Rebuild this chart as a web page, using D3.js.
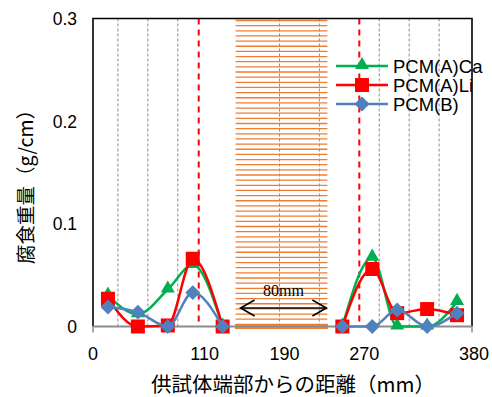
<!DOCTYPE html>
<html>
<head>
<meta charset="utf-8">
<script src="https://cdn.jsdelivr.net/npm/d3@7"></script>
<style>
    body { margin: 0; background: white; }
    text { font-family: "Liberation Sans", Arial, sans-serif; }
</style>
</head>
<body>
<svg id="chart" width="492" height="397"></svg>
<script>
    // sample positions (mm from specimen end) and corrosion weight (g/cm)
    var positions = [15, 45, 75, 100, 130, 250, 280, 305, 335, 365];
    var pcmACa = [0.030, 0.012, 0.036, 0.060, 0, 0, 0.067, 0, 0, 0.024];
    var pcmALi = [0.027, 0, 0.001, 0.066, 0, 0, 0.056, 0.013, 0.017, 0.011];
    var pcmB   = [0.019, 0.014, 0, 0.033, 0, 0, 0, 0.016, 0, 0.013];
    var seriesNames = ["PCM(A)Ca", "PCM(A)Li", "PCM(B)"];

    var xTicks = [0, 110, 190, 270, 380];
    var yTicks = [0, 0.1, 0.2, 0.3];
    var gridLines = [25, 55, 85, 187, 227, 287, 317, 347];
    var redLines = [106, 267];
    var hatchRange = [143, 235];
    var arrowRange = [148, 234];

    var svg = d3.select("#chart");
    var x = d3.scaleLinear().domain([0, 380]).range([93, 472]);
    var y = d3.scaleLinear().domain([0, 0.3]).range([326.5, 18.5]);

    var colours = ["#00b050", "#ff0000", "#4f81bd"];
    var seriesData = [pcmACa, pcmALi, pcmB];

    // grey dashed section lines
    svg.selectAll(".grid")
        .data(gridLines)
        .enter()
        .append("line")
        .attr("x1", d => x(d)).attr("x2", d => x(d))
        .attr("y1", y(0.3)).attr("y2", y(0))
        .attr("stroke", "#8c8c8c")
        .attr("stroke-width", 1)
        .attr("stroke-dasharray", "3,2");

    // orange hatched zone
    var hatch = svg.append("g");
    var ys = d3.range(y(0.3) + 2, y(0) - 2, 5.15);
    hatch.selectAll("line")
        .data(ys)
        .enter()
        .append("line")
        .attr("x1", x(hatchRange[0])).attr("x2", x(hatchRange[1]))
        .attr("y1", d => d).attr("y2", d => d)
        .attr("stroke", "#ed7d31")
        .attr("stroke-width", 1.3);
    hatch.append("rect")
        .attr("x", x(hatchRange[0]))
        .attr("y", y(0) - 2)
        .attr("width", x(hatchRange[1]) - x(hatchRange[0]))
        .attr("height", 4)
        .attr("fill", "#9a9a9a")
        .attr("stroke", "#ed7d31")
        .attr("stroke-width", 1);

    // red dashed lines
    svg.selectAll(".red")
        .data(redLines)
        .enter()
        .append("line")
        .attr("x1", d => x(d)).attr("x2", d => x(d))
        .attr("y1", y(0.3)).attr("y2", y(0))
        .attr("stroke", "#ff0000")
        .attr("stroke-width", 2)
        .attr("stroke-dasharray", "6,5");

    // 80mm arrow
    var ay = 308;
    svg.append("line")
        .attr("x1", x(arrowRange[0])).attr("x2", x(arrowRange[1]))
        .attr("y1", ay).attr("y2", ay)
        .attr("stroke", "black").attr("stroke-width", 1.6);
    svg.append("path")
        .attr("d", "M" + (x(arrowRange[0]) + 14) + "," + (ay - 8) + "L" + x(arrowRange[0]) + "," + ay + "L" + (x(arrowRange[0]) + 14) + "," + (ay + 8))
        .attr("fill", "none").attr("stroke", "black").attr("stroke-width", 1.6);
    svg.append("path")
        .attr("d", "M" + (x(arrowRange[1]) - 14) + "," + (ay - 8) + "L" + x(arrowRange[1]) + "," + ay + "L" + (x(arrowRange[1]) - 14) + "," + (ay + 8))
        .attr("fill", "none").attr("stroke", "black").attr("stroke-width", 1.6);
    svg.append("text")
        .attr("x", x((arrowRange[0] + arrowRange[1]) / 2))
        .attr("y", 296)
        .attr("text-anchor", "middle")
        .style("font", "16px 'Liberation Serif', serif")
        .text("80mm");

    // frame
    svg.append("path")
        .attr("d", "M" + x(0) + "," + y(0) + "V" + y(0.3) + "H" + x(380) + "V" + y(0))
        .attr("fill", "none").attr("stroke", "black").attr("stroke-width", 1.6);
    svg.append("line")
        .attr("x1", x(0)).attr("x2", x(380))
        .attr("y1", y(0)).attr("y2", y(0))
        .attr("stroke", "#8c8c8c").attr("stroke-width", 2);
    svg.selectAll(".xt")
        .data([0, 380])
        .enter()
        .append("line")
        .attr("x1", d => x(d)).attr("x2", d => x(d))
        .attr("y1", y(0)).attr("y2", y(0) + 6)
        .attr("stroke", "#8c8c8c").attr("stroke-width", 1.5);

    // tick labels
    svg.selectAll(".xl")
        .data(xTicks)
        .enter()
        .append("text")
        .attr("x", d => x(d) + (d == 0 ? 0 : 2))
        .attr("y", 360)
        .attr("text-anchor", "middle")
        .style("font-size", "18px")
        .attr("fill", "#000")
        .text(d => d);
    svg.selectAll(".yl")
        .data(yTicks)
        .enter()
        .append("text")
        .attr("x", 77)
        .attr("y", d => y(d) + 6.5)
        .attr("text-anchor", "end")
        .style("font-size", "17.5px")
        .attr("fill", "#000")
        .text(d => d == 0 ? "0" : d3.format(".1f")(d));

    // axis titles
    svg.append("text")
        .attr("transform", "translate(33,182) rotate(-90)")
        .attr("text-anchor", "middle")
        .style("font", "19.5px 'Noto Sans CJK JP', sans-serif")
        .attr("fill", "#000")
        .text("腐食重量（g/cm）");
    svg.append("text")
        .attr("x", 293)
        .attr("y", 392)
        .attr("text-anchor", "middle")
        .style("font", "20.5px 'Noto Sans CJK JP', sans-serif")
        .attr("fill", "#000")
        .text("供試体端部からの距離（mm）");

    // series lines (two segments each, split at the hatched zone)
    var line = d3.line()
        .x(d => x(d[0]))
        .y(d => y(d[1]))
        .curve(d3.curveMonotoneX);

    var triangle = d3.symbol().type(d3.symbolTriangle).size(85);
    var square = d3.symbol().type(d3.symbolSquare).size(196);
    var diamond = d3.symbol().type(d3.symbolSquare).size(112);

    function drawMarker(g, i, cx, cy) {
        if (i == 0) {
            g.append("path").attr("d", triangle).attr("transform", "translate(" + cx + "," + (cy - 1) + ")").attr("fill", colours[0]);
        } else if (i == 1) {
            g.append("path").attr("d", square).attr("transform", "translate(" + cx + "," + cy + ")").attr("fill", colours[1]);
        } else {
            g.append("path").attr("d", diamond).attr("transform", "translate(" + cx + "," + cy + ") rotate(45)").attr("fill", colours[2]);
        }
    }

    seriesData.forEach(function(vals, i) {
        var pts = positions.map((p, k) => [p, vals[k]]);
        var g = svg.append("g");
        [pts.slice(0, 5), pts.slice(5)].forEach(function(seg) {
            g.append("path")
                .attr("d", line(seg))
                .attr("fill", "none")
                .attr("stroke", colours[i])
                .attr("stroke-width", 2.5);
        });
        pts.forEach(p => drawMarker(g, i, x(p[0]), y(p[1])));
    });

    // legend
    var leg = svg.append("g");
    seriesNames.forEach(function(name, i) {
        var ly = 66 + i * 19;
        leg.append("line")
            .attr("x1", 336).attr("x2", 388)
            .attr("y1", ly).attr("y2", ly)
            .attr("stroke", colours[i]).attr("stroke-width", 2.5);
        drawMarker(leg, i, 362, ly);
        leg.append("text")
            .attr("x", 393)
            .attr("y", ly + 6.5)
            .style("font-size", "18.5px")
            .attr("fill", "#000")
            .text(name);
    });
</script>
</body>
</html>
